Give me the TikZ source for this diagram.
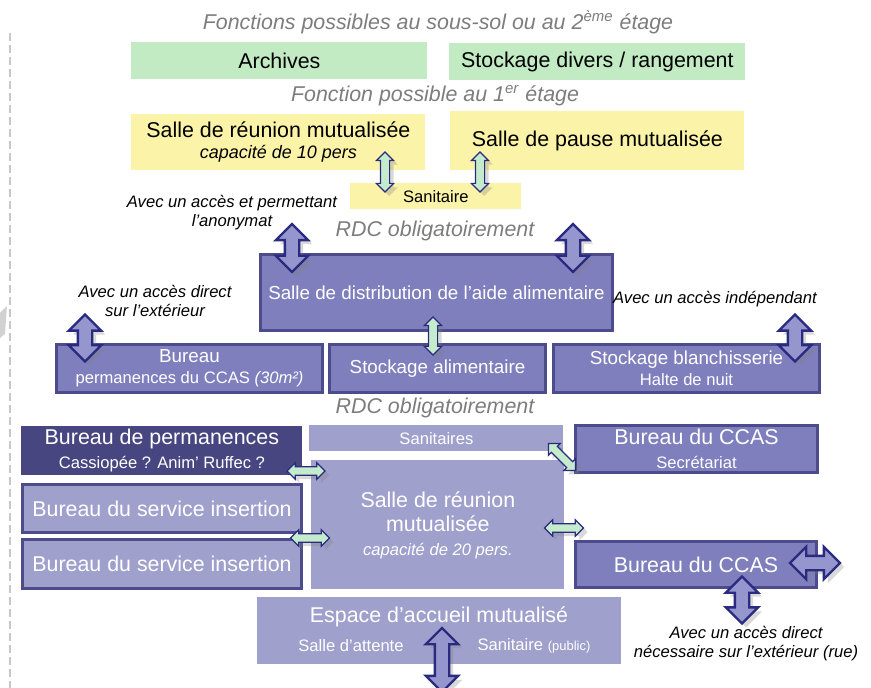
\documentclass[tikz,border=0pt]{standalone}
\usepackage{fontspec}
\setmainfont{Liberation Sans}
\usepackage{tikz}
\usetikzlibrary{shapes.arrows,shadows}

\definecolor{boxgreen}{RGB}{194,235,196}
\definecolor{boxyellow}{RGB}{251,243,168}
\definecolor{boxpurple}{RGB}{127,127,189}
\definecolor{boxlight}{RGB}{160,160,204}
\definecolor{boxdark}{RGB}{72,70,128}
\definecolor{edgepurple}{RGB}{76,76,140}
\definecolor{arrowline}{RGB}{42,42,128}
\definecolor{arrowfill}{RGB}{150,150,206}
\definecolor{arrowgreen}{RGB}{196,236,204}
\definecolor{titlegray}{RGB}{125,125,125}
\definecolor{dashgray}{RGB}{200,200,200}

\newcommand{\boxfont}{\fontsize{10.7}{12}\selectfont}
\newcommand{\midfont}{\fontsize{9.4}{10.5}\selectfont}
\newcommand{\subfont}{\fontsize{8.3}{10}\selectfont}
\newcommand{\notefont}{\fontsize{8.3}{9.5}\selectfont\itshape}

\tikzset{
  room/.style={anchor=north west, inner sep=0pt, align=center},
  greenbox/.style={room, fill=boxgreen, font=\boxfont},
  yellowbox/.style={room, fill=boxyellow, font=\boxfont},
  purplebox/.style={room, fill=boxpurple, draw=edgepurple, line width=1.5pt, text=white, font=\midfont},
  darkbox/.style={room, fill=boxdark, text=white, font=\boxfont},
  lightbox/.style={room, fill=boxlight, text=white, font=\boxfont},
  linedbox/.style={room, fill=boxlight, draw=edgepurple, line width=1.5pt, text=white, font=\boxfont},
  titletext/.style={text=titlegray, font=\boxfont\itshape},
  notetext/.style={align=center, font=\notefont},
  arrowshadow/.style={drop shadow={opacity=0.3, shadow xshift=2pt, shadow yshift=-2pt}},
  bigarrow/.style={double arrow, draw=arrowline, fill=arrowfill, line width=1.2pt, inner sep=3pt,
    minimum width=0pt, double arrow head extend=4.5pt, arrowshadow},
  greenarrow/.style={double arrow, draw=arrowline, fill=arrowgreen, line width=0.6pt, inner sep=2pt,
    minimum width=0pt, double arrow head extend=2pt, arrowshadow}
}

\begin{document}
\begin{tikzpicture}[x=0.5pt, y=-0.5pt]
    \useasboundingbox (0,0) rectangle (871,688);
    \draw[dashgray, line width=1pt, dash pattern=on 4pt off 2pt] (10,33) -- (10,688);
    \fill[gray!35] (0,313) -- (7,306) -- (5,334) -- (0,338) -- cycle;

    \node[titletext] (t1) at (438,22) {Fonctions possibles au sous-sol ou au 2\textsuperscript{ème} étage};
    \node[greenbox, minimum width=148pt, minimum height=18.5pt] (archives) at (131,42) {Archives};
    \node[greenbox, minimum width=148pt, minimum height=18.5pt] (stockdiv) at (449,43) {Stockage divers / rangement};

    \node[titletext] (t2) at (435,96) {Fonction possible au 1\textsuperscript{er} étage};
    \node[yellowbox, minimum width=147pt, minimum height=28pt] (reu10) at (131,114)
        {Salle de réunion mutualisée\\[-1.5pt]{\fontsize{9}{10}\selectfont\itshape capacité de 10 pers}};
    \node[yellowbox, minimum width=147pt, minimum height=29.5pt] (pause) at (450,111) {Salle de pause mutualisée};
    \node[yellowbox, minimum width=85.5pt, minimum height=13pt, font=\subfont] (sani1) at (350,183) {Sanitaire};
    \node[greenarrow, rotate=90, minimum height=20pt] (a1) at (385,172) {};
    \node[greenarrow, rotate=90, minimum height=20pt] (a2) at (480,172) {};

    \node[notetext] (n1) at (232,213) {Avec un accès et permettant\\l’anonymat};
    \node[titletext] (t3) at (435,231) {RDC obligatoirement};
    \node[purplebox, minimum width=176pt, minimum height=38pt] (distrib) at (259,253)
        {Salle de distribution de l’aide alimentaire};
    \node[bigarrow, rotate=90, minimum height=24pt] (a3) at (292,248) {};
    \node[bigarrow, rotate=90, minimum height=24pt] (a4) at (573,248) {};

    \node[notetext] (n2) at (155,301) {Avec un accès direct\\sur l’extérieur};
    \node[notetext] (n3) at (715,299) {Avec un accès indépendant};
    \node[purplebox, minimum width=133pt, minimum height=24pt] (bureau) at (55,343)
        {Bureau\\{\subfont permanences du CCAS \textit{(30m²)}}};
    \node[purplebox, minimum width=108pt, minimum height=24pt] (stockal) at (328,343) {Stockage alimentaire};
    \node[purplebox, minimum width=133pt, minimum height=24pt] (blanch) at (552,343)
        {Stockage blanchisserie\\{\subfont Halte de nuit}};
    \node[bigarrow, rotate=90, minimum height=23.5pt] (a5) at (85,338) {};
    \node[bigarrow, rotate=90, minimum height=23.5pt] (a6) at (795,338) {};
    \node[greenarrow, rotate=90, minimum height=19pt] (a7) at (433,336) {};

    \node[titletext] (t4) at (435,408) {RDC obligatoirement};
    \node[darkbox, minimum width=140.5pt, minimum height=24.5pt] (permanence) at (21,426)
        {Bureau de permanences\\{\subfont Cassiopée ? Anim’ Ruffec ?}};
    \node[lightbox, minimum width=127pt, minimum height=13pt, font=\subfont] (sani2) at (309,425) {Sanitaires};
    \node[linedbox, minimum width=139.5pt, minimum height=24pt] (insert1) at (21,483) {Bureau du service insertion};
    \node[linedbox, minimum width=139.5pt, minimum height=24.5pt] (insert2) at (21,538) {Bureau du service insertion};
    \node[lightbox, minimum width=126.5pt, minimum height=64.5pt] (reu20) at (311,460)
        {Salle de réunion\\mutualisée\\{\subfont\itshape capacité de 20 pers.}};
    \node[purplebox, minimum width=121pt, minimum height=23.5pt, font=\boxfont] (ccas1) at (574,424)
        {Bureau du CCAS\\{\subfont Secrétariat}};
    \node[purplebox, minimum width=120.5pt, minimum height=23pt, font=\boxfont] (ccas2) at (574,540) {Bureau du CCAS};

    \node[greenarrow, minimum height=19pt, inner sep=1.8pt] (a8) at (306,471) {};
    \node[greenarrow, minimum height=19.5pt, inner sep=1.8pt] (a9) at (310,538) {};
    \node[greenarrow, minimum height=19.5pt, inner sep=1.8pt] (a10) at (564,528) {};
    \node[greenarrow, rotate=-45, minimum height=19pt, inner sep=1.8pt] (a11) at (562,457) {};
    \node[bigarrow, minimum height=25pt] (a12) at (815,563) {};
    \node[bigarrow, rotate=90, minimum height=23.5pt] (a13) at (742,600) {};

    \node[notetext] (n4) at (746,644) {Avec un accès direct\\nécessaire sur l’extérieur (rue)};
    \node[lightbox, minimum width=182pt, minimum height=33.5pt] (accueil) at (257,597) {};
    \node[text=white, font=\boxfont] (accueil1) at (439,617) {Espace d’accueil mutualisé};
    \node[text=white, font=\subfont] (attente) at (351,646) {Salle d’attente};
    \node[text=white, font=\subfont] (sani3) at (534,646) {Sanitaire {\fontsize{6.5}{8}\selectfont(public)}};
    \node[bigarrow, rotate=90, minimum height=32pt] (a14) at (442,660) {};
\end{tikzpicture}
\end{document}
